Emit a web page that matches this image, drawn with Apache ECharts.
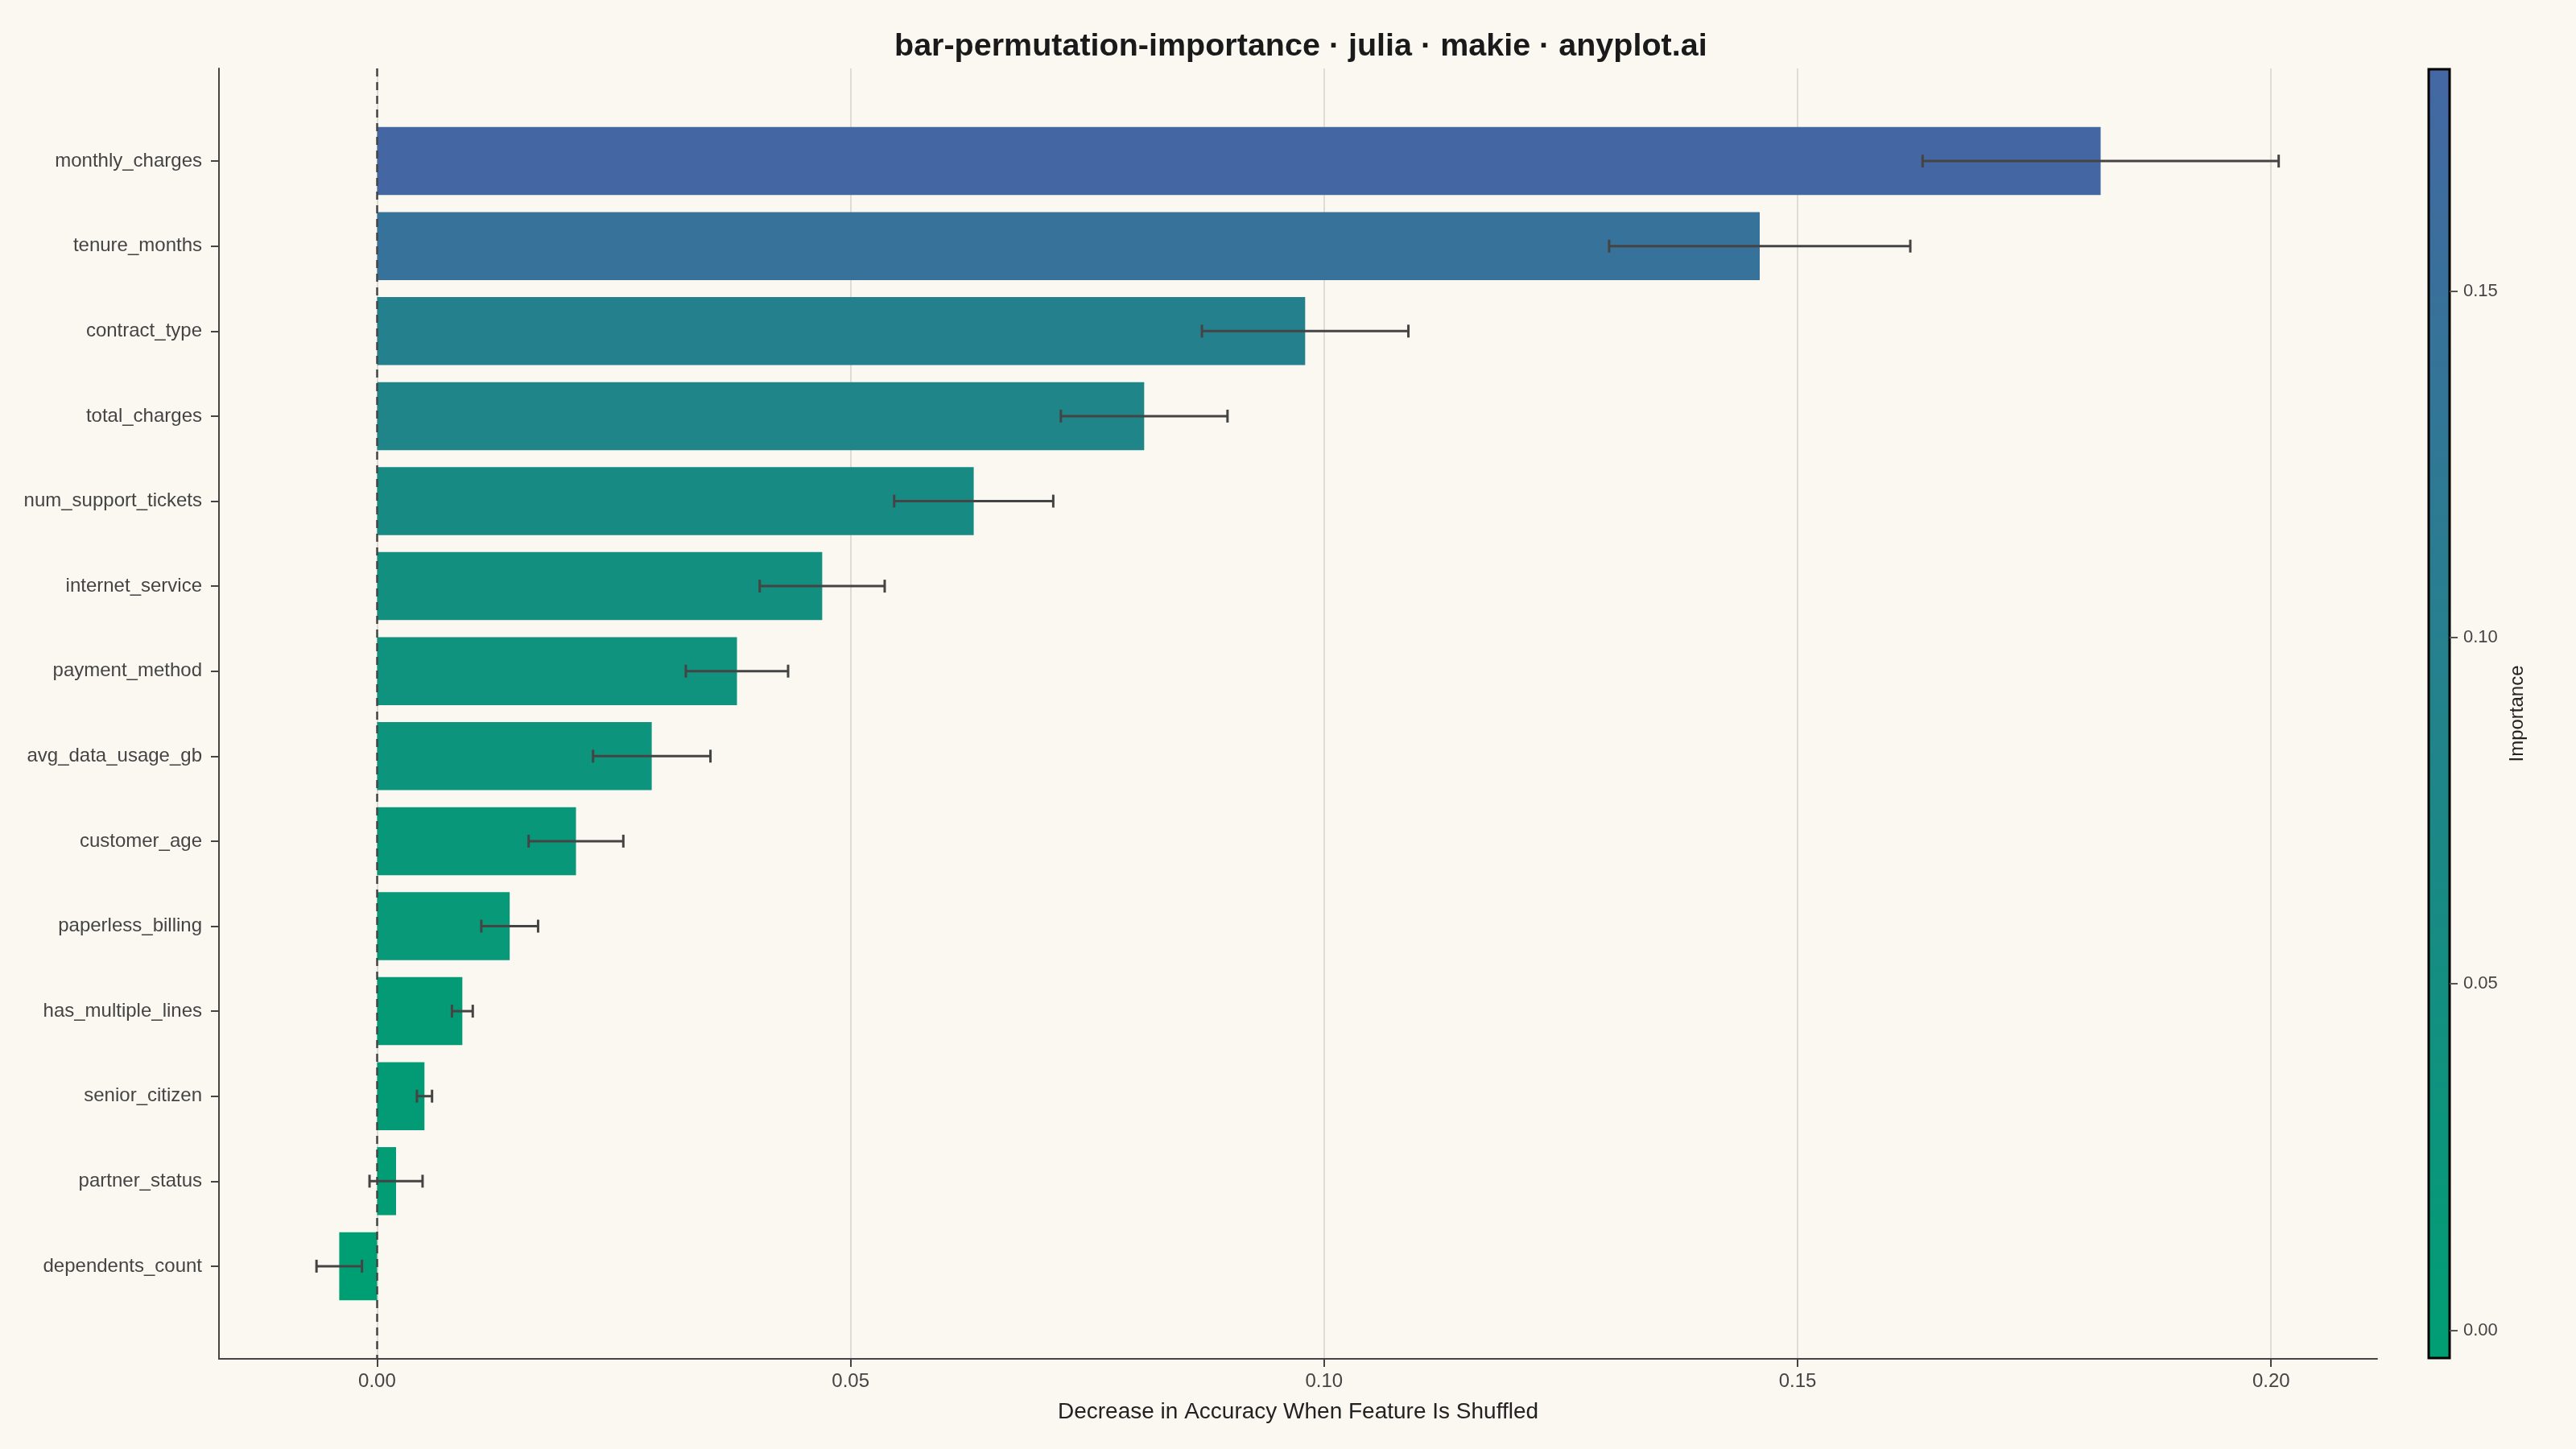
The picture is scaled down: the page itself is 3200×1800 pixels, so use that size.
<!DOCTYPE html>
<html>
<head>
<meta charset="utf-8">
<script src="https://cdn.jsdelivr.net/npm/echarts@6/dist/echarts.min.js"></script>
<style>
  html, body { margin: 0; padding: 0; background: #FAF8F1; }
  #main { width: 3200px; height: 1800px; }
</style>
</head>
<body>
<div id="main"></div>
<script>
// permutation importance, most important at top
var features = ['monthly_charges', 'tenure_months', 'contract_type', 'total_charges',
  'num_support_tickets', 'internet_service', 'payment_method', 'avg_data_usage_gb',
  'customer_age', 'paperless_billing', 'has_multiple_lines', 'senior_citizen',
  'partner_status', 'dependents_count'];
var importance = [0.182, 0.146, 0.098, 0.081, 0.063, 0.047, 0.038, 0.029, 0.021, 0.014, 0.009, 0.005, 0.002, -0.004];
var importanceStd = [0.0188, 0.0159, 0.0109, 0.0088, 0.0084, 0.0066, 0.0054, 0.0062, 0.0050, 0.0030, 0.0011, 0.0008, 0.0028, 0.0024];
var xTicks = [0, 0.05, 0.10, 0.15, 0.20];
var cbTicks = [0, 0.05, 0.10, 0.15];

var lowColor = '#009E73', highColor = '#4467A3';
var font = 'Liberation Sans';

var positions = features.map(function (f, i) { return i + 1; });
var barData = importance.map(function (v, i) { return [v, positions[i], importanceStd[i]]; });

var vmin = Math.min.apply(null, importance);
var vmax = Math.max.apply(null, importance);

var chart = echarts.init(document.getElementById('main'));

chart.setOption({
  backgroundColor: '#FAF8F1',
  animation: false,
  title: {
    text: 'bar-permutation-importance · julia · makie · anyplot.ai',
    left: 1106, top: 33,
    textStyle: { fontFamily: font, fontSize: 39.5, fontWeight: 'bold', color: '#1a1a1a' }
  },
  visualMap: {
    show: false, type: 'continuous', seriesIndex: 0, dimension: 0,
    min: vmin, max: vmax,
    inRange: { color: [lowColor, highColor] }
  },
  grid: [
    { left: 272, top: 85, width: 2681, height: 1603 },
    {
      left: 3017, top: 86, width: 26, height: 1601, show: true,
      borderColor: '#000', borderWidth: 3,
      backgroundColor: new echarts.graphic.LinearGradient(0, 1, 0, 0, [
        { offset: 0, color: lowColor }, { offset: 1, color: highColor }
      ])
    }
  ],
  xAxis: [
    {
      type: 'value', gridIndex: 0, position: 'bottom', min: -0.0167, max: 0.2112,
      name: 'Decrease in Accuracy When Feature Is Shuffled',
      nameLocation: 'middle', nameGap: 52,
      nameTextStyle: { fontFamily: font, fontSize: 28, color: '#222' },
      axisLine: { show: true, onZero: false, lineStyle: { color: '#444', width: 2 } },
      axisTick: { show: true, length: 10, customValues: xTicks, lineStyle: { color: '#444', width: 2 } },
      axisLabel: {
        customValues: xTicks, margin: 16, fontFamily: font, fontSize: 24, color: '#444',
        formatter: function (v) { return v.toFixed(2); }
      },
      splitLine: { show: true, lineStyle: { color: '#DEDCD6', width: 2 } }
    },
    { type: 'value', gridIndex: 1, show: false, min: 0, max: 1 }
  ],
  yAxis: [
    {
      type: 'value', gridIndex: 0, position: 'left', inverse: true, min: -0.09, max: 15.09,
      axisLine: { show: true, onZero: false, lineStyle: { color: '#444', width: 2 } },
      axisTick: { show: true, length: 10, customValues: positions, lineStyle: { color: '#444', width: 2 } },
      axisLabel: {
        customValues: positions, margin: 21, fontFamily: font, fontSize: 24, color: '#444',
        formatter: function (v) { return features[Math.round(v) - 1] || ''; }
      },
      splitLine: { show: false }
    },
    {
      type: 'value', gridIndex: 1, position: 'right', min: vmin, max: vmax,
      name: 'Importance', nameLocation: 'middle', nameRotate: 90, nameGap: 72,
      nameTextStyle: { fontFamily: font, fontSize: 24, color: '#222' },
      axisLine: { show: false, onZero: false },
      axisTick: { show: true, length: 10, customValues: cbTicks, lineStyle: { color: '#555', width: 2 } },
      axisLabel: {
        customValues: cbTicks, margin: 17, fontFamily: font, fontSize: 22, color: '#444',
        formatter: function (v) { return v.toFixed(2); }
      },
      splitLine: { show: false }
    }
  ],
  series: [
    {
      type: 'custom', xAxisIndex: 0, yAxisIndex: 0,
      data: barData,
      renderItem: function (params, api) {
        var v = api.value(0), p = api.value(1);
        var a = api.coord([0, p]);
        var b = api.coord([v, p]);
        var h = api.size([0, 0.8])[1];
        return {
          type: 'rect',
          shape: { x: Math.min(a[0], b[0]), y: a[1] - h / 2, width: Math.abs(b[0] - a[0]), height: h },
          style: { fill: api.visual('color') }
        };
      },
      markLine: {
        silent: true, symbol: 'none', label: { show: false },
        lineStyle: { color: '#444', width: 2.5, type: [10, 7] },
        data: [{ xAxis: 0 }]
      },
      z: 2
    },
    {
      type: 'custom', xAxisIndex: 0, yAxisIndex: 0,
      data: barData,
      renderItem: function (params, api) {
        var v = api.value(0), p = api.value(1), s = api.value(2);
        var l = api.coord([v - s, p]);
        var r = api.coord([v + s, p]);
        var cap = 8;
        var st = { stroke: '#444', lineWidth: 3 };
        return {
          type: 'group',
          children: [
            { type: 'line', shape: { x1: l[0], y1: l[1], x2: r[0], y2: r[1] }, style: st },
            { type: 'line', shape: { x1: l[0], y1: l[1] - cap, x2: l[0], y2: l[1] + cap }, style: st },
            { type: 'line', shape: { x1: r[0], y1: r[1] - cap, x2: r[0], y2: r[1] + cap }, style: st }
          ]
        };
      },
      z: 3
    }
  ]
});
</script>
</body>
</html>
